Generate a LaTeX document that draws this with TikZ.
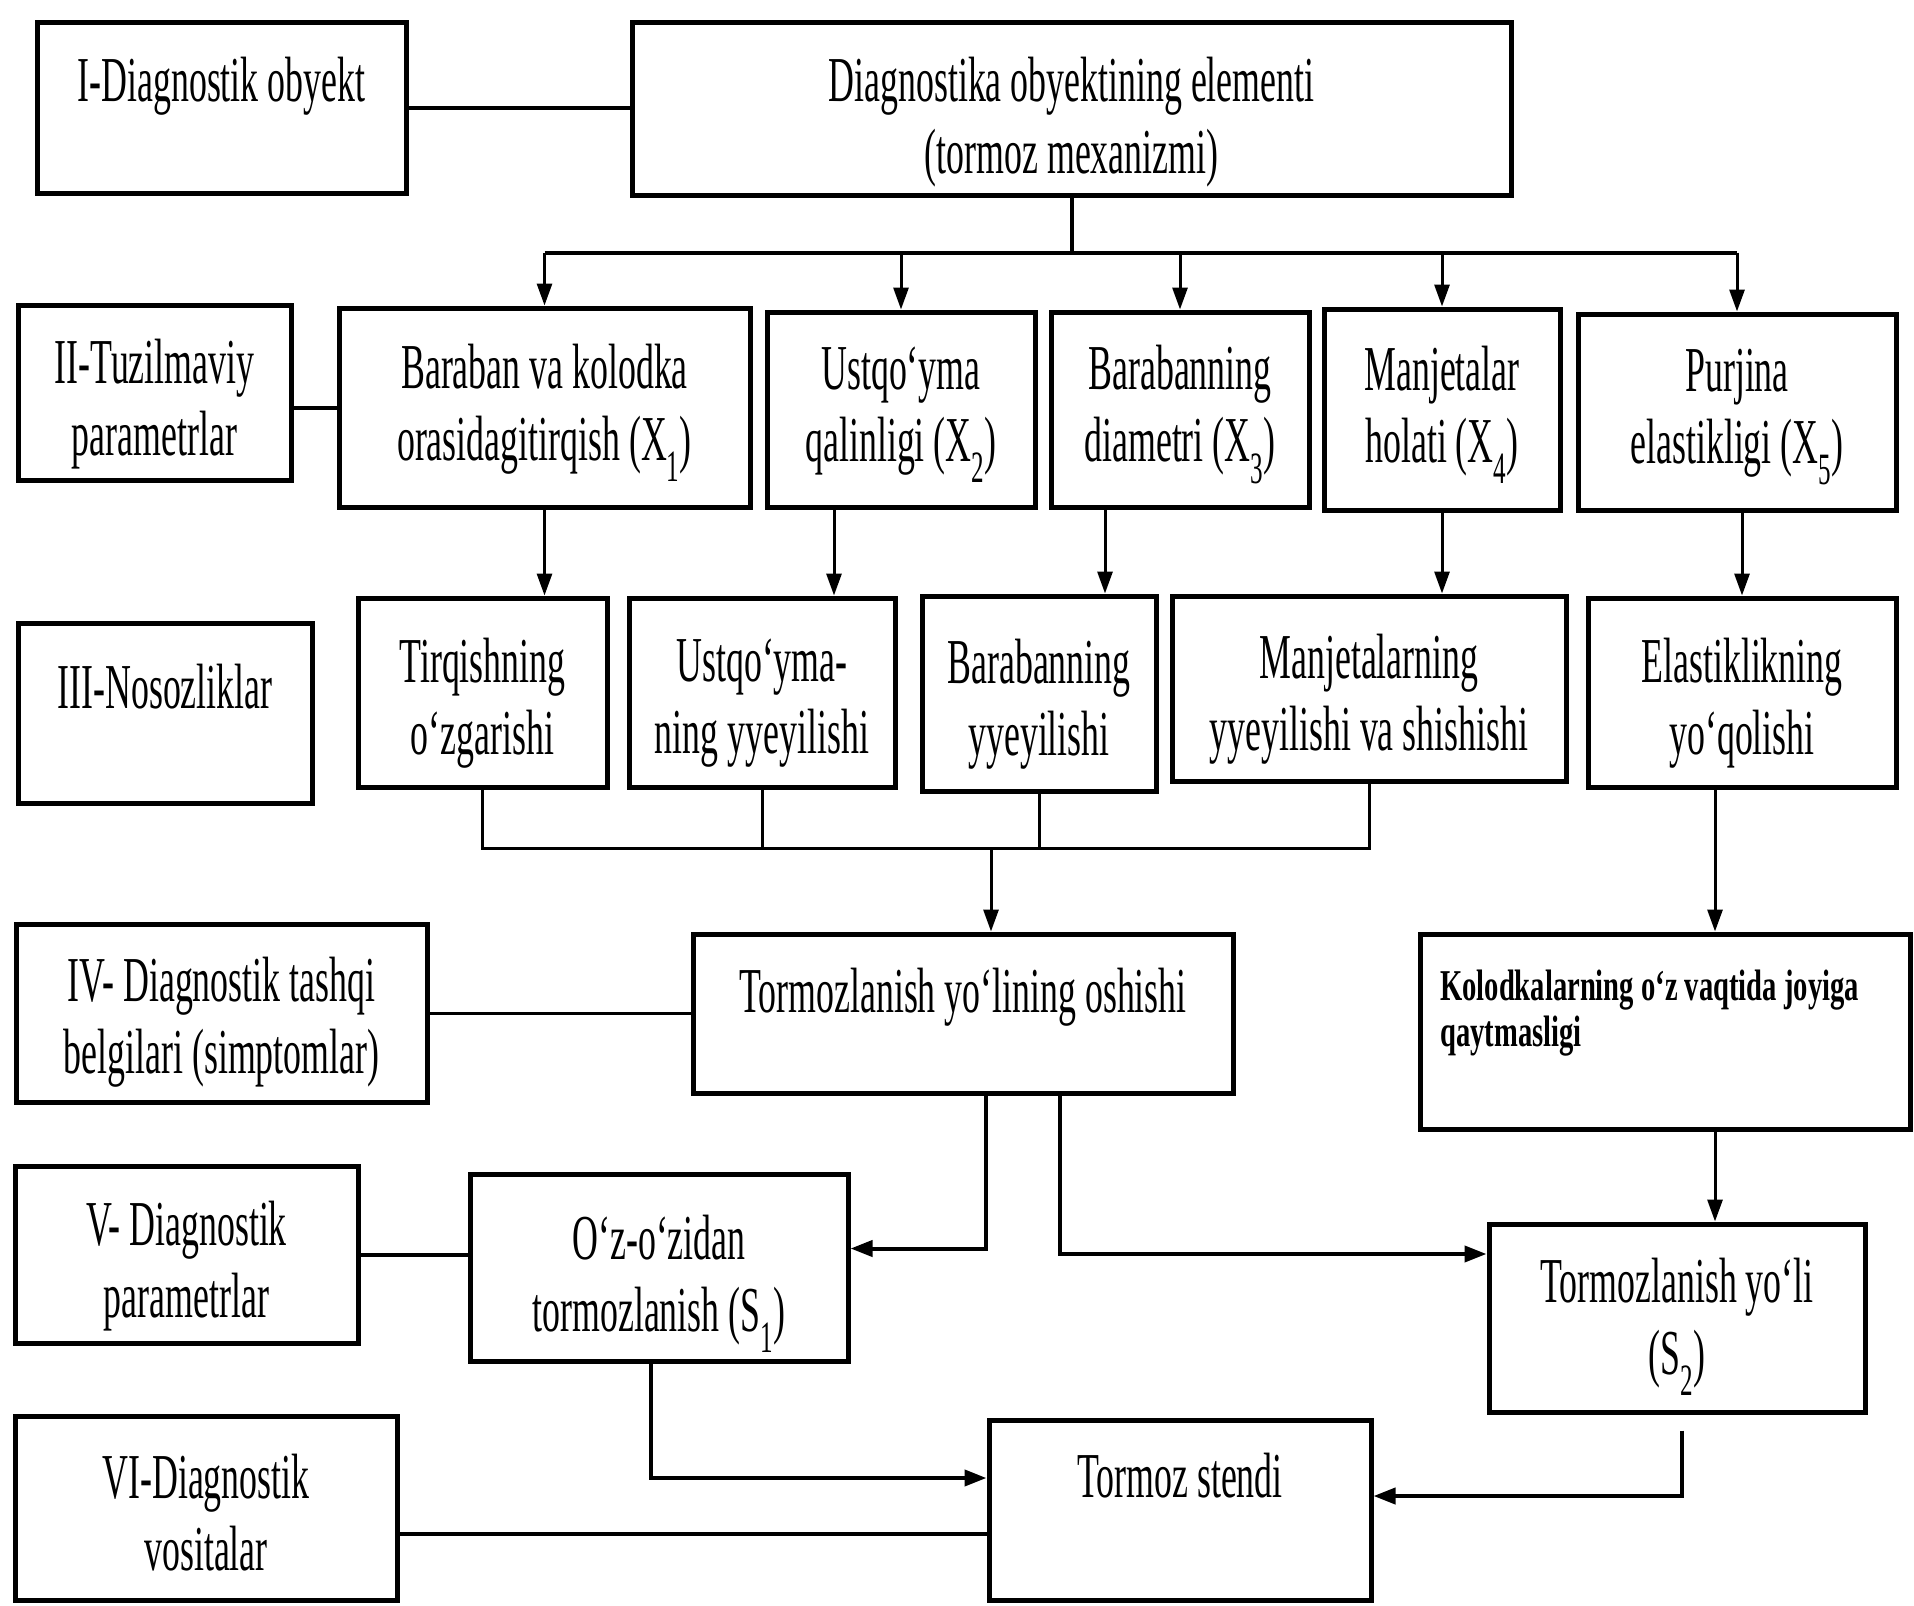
\documentclass[tikz,border=0pt]{standalone}
\usepackage{fontspec}
\setmainfont{Liberation Serif}[FakeStretch=0.56]
\newfontfamily\notefont{Liberation Serif}[FakeStretch=0.65]
\usetikzlibrary{fit,arrows.meta}
% a framed box spanning two corners, with its text set slightly below centre
\newcommand\framed[4][11pt]{%
  \node[box, fit={#3}] (#2) {};
  \node[btxt] (t#2) at ([yshift=-#1]#2.center) {#4};}
\begin{document}
\begin{tikzpicture}[x=1pt,y=-1pt,
  every node/.style={font=\fontsize{64}{72}\selectfont},
  box/.style={draw, line width=5pt, inner sep=0pt},
  btxt/.style={inner sep=0pt, align=center},
  txt/.style={inner sep=0pt, anchor=base},
  conn/.style={line width=4pt},
  thin conn/.style={line width=3pt},
  arr/.style={line width=3pt, -{Triangle[length=22pt,width=15pt]}},
  bigarr/.style={line width=4pt, -{Triangle[length=22pt,width=16pt]}}]
\useasboundingbox (0,0) rectangle (1914,1606);

% level I
\node[box, fit={(37,22) (406,193)}] (I) {};
\node[txt] (tI) at ([yshift=-82pt]I.north) {I-Diagnostik obyekt};
\framed[14pt]{top}{(632,22) (1511,195)}{Diagnostika obyektining elementi\\(tormoz mexanizmi)}

% level II
\framed[12pt]{II}{(18,305) (291,480)}{II-Tuzilmaviy\\parametrlar}
\framed[5pt]{X1}{(339,308) (750,507)}{Baraban va kolodka\\orasidagitirqish (X\textsubscript{1})}
\framed[5pt]{X2}{(767,312) (1035,507)}{Ustqo‘yma\\qalinligi (X\textsubscript{2})}
\framed[5pt]{X3}{(1051,312) (1309,507)}{Barabanning\\diametri (X\textsubscript{3})}
\framed[5pt]{X4}{(1324,309) (1560,510)}{Manjetalar\\holati (X\textsubscript{4})}
\framed[5pt]{X5}{(1578,314) (1896,510)}{Purjina\\elastikligi (X\textsubscript{5})}

% level III
\node[box, fit={(18,623) (312,803)}] (III) {};
\node[txt] (tIII) at ([yshift=-88pt]III.north) {III-Nosozliklar};
\framed{T}{(358,598) (607,787)}{Tirqishning\\o‘zgarishi}
\framed{U}{(629,598) (895,787)}{Ustqo‘yma-\\ning yyeyilishi}
\framed{Bd}{(922,596) (1156,791)}{Barabanning\\yyeyilishi}
\framed{M}{(1172,596) (1566,781)}{Manjetalarning\\yyeyilishi va shishishi}
\framed{E}{(1588,598) (1896,787)}{Elastiklikning\\yo‘qolishi}

% level IV
\framed[9pt]{IV}{(16,924) (427,1102)}{IV- Diagnostik tashqi\\belgilari (simptomlar)}
\node[box, fit={(693,934) (1233,1093)}] (osh) {};
\node[txt] (tosh) at ([yshift=-81pt]osh.north) {Tormozlanish yo‘lining oshishi};
\node[box, fit={(1420,934) (1910,1129)}] (K) {};
\node[inner sep=0pt, anchor=north west, align=left,
      font=\notefont\fontsize{44}{46}\selectfont\bfseries] (tK) at (1440,970)
      {Kolodkalarning o‘z vaqtida joyiga\\qaytmasligi};

% level V
\framed[12pt]{V}{(15,1166) (358,1343)}{V- Diagnostik\\parametrlar}
\framed[16pt]{oz}{(470,1174) (848,1361)}{O‘z-o‘zidan\\tormozlanish (S\textsubscript{1})}
\framed[9pt]{S2}{(1489,1224) (1865,1412)}{Tormozlanish yo‘li\\(S\textsubscript{2})}

% level VI
\framed[5pt]{VI}{(15,1416) (397,1600)}{VI-Diagnostik\\vositalar}
\node[box, fit={(989,1420) (1371,1600)}] (st) {};
\node[txt] (tst) at ([yshift=-80pt]st.north) {Tormoz stendi};

% links between the level labels and their items
\draw[conn] (I.east) -- (I.east -| top.west);
\draw[conn] (X1.west) -- (X1.west -| II.east);
\draw[thin conn] (IV.east) -- (IV.east -| osh.west);
\draw[conn] (V.east) -- (V.east -| oz.west);
\coordinate (vi) at ([yshift=-26pt]VI.east);
\draw[conn] (vi) -- (vi -| st.west);

% distribution bus below the element box
\coordinate (bus) at ([yshift=-55pt]top.south);
\draw[conn] (top.south) -- (bus);
\draw[conn] (X1.north |- bus) -- (X5.north |- bus);
\foreach \n in {X1,X2,X3,X4,X5}
  \draw[arr] (\n.north |- bus) -- (\n.north);

% parameters to faults
\draw[arr] (X1.south) -- (X1.south |- T.north);
\coordinate (x2o) at ([xshift=-67pt]X2.south);
\draw[arr] (x2o) -- (x2o |- U.north);
\coordinate (x3o) at ([xshift=-75pt]X3.south);
\draw[arr] (x3o) -- (x3o |- Bd.north);
\draw[arr] (X4.south) -- (X4.south |- M.north);
\coordinate (x5o) at ([xshift=5pt]X5.south);
\draw[arr] (x5o) -- (x5o |- E.north);

% collecting bus of the faults
\coordinate (cb) at ([yshift=-59pt]T.south);
\draw[thin conn] (T.south) -- (cb) -- (M.south |- cb) -- (M.south);
\draw[thin conn] (U.south) -- (U.south |- cb);
\draw[thin conn] (Bd.south) -- (Bd.south |- cb);
\coordinate (oin) at ([xshift=28pt]osh.north);
\draw[arr] (oin |- cb) -- (oin);

% right branch
\coordinate (ein) at ([xshift=-27pt]E.south);
\draw[arr] (ein) -- (ein |- K.north);
\draw[arr] (ein |- K.south) -- (ein |- S2.north);

% symptoms to diagnostic parameters
\coordinate (o1) at ([xshift=23pt]osh.south);
\coordinate (ozin) at ([yshift=19pt]oz.east);
\draw[bigarr] (o1) |- (ozin);
\coordinate (o2) at ([xshift=97pt]osh.south);
\coordinate (s2in) at ([yshift=64pt]S2.west);
\draw[bigarr] (o2) |- (s2in);

% diagnostic parameters to the test bench
\coordinate (stin) at ([yshift=32pt]st.west);
\draw[bigarr] ([xshift=-8pt]oz.south) |- (stin);
\coordinate (s2out) at ([xshift=5pt,yshift=-16pt]S2.south);
\coordinate (stin2) at ([yshift=14pt]st.east);
\draw[bigarr] (s2out) |- (stin2);
\end{tikzpicture}
\end{document}
